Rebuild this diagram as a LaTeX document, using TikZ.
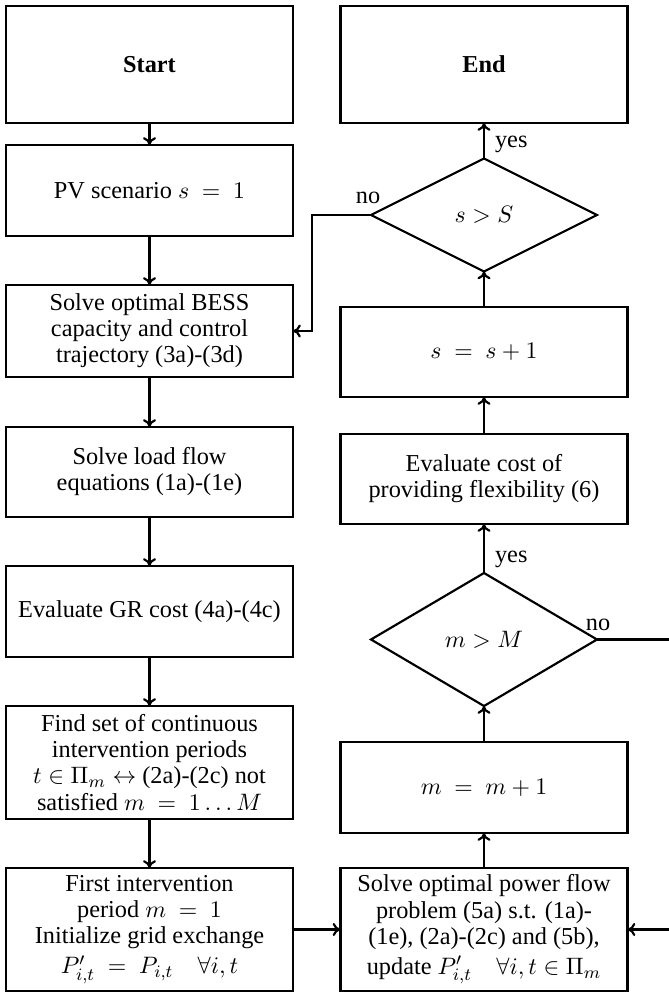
\documentclass[tikz,border=0pt]{standalone}
\usepackage{fontspec}
\setmainfont{Liberation Serif}
\usetikzlibrary{shapes.geometric,arrows.meta}
% one drawing unit
\newdimen\unitpx \unitpx=0.4608pt

\begin{document}
\begin{tikzpicture}[x=0.4608pt, y=-0.4608pt,
  line width=1pt,
  font=\fontsize{11.2}{12}\selectfont,
  bx/.style={draw, rectangle, line width=1pt, minimum width=287*\unitpx,
    minimum height=#1*\unitpx, inner sep=2pt, outer sep=0pt, align=center},
  dia/.style={draw, diamond, line width=1pt, minimum width=226*\unitpx,
    minimum height=113*\unitpx, inner sep=0pt, outer sep=0pt},
  lbl/.style={inner sep=0pt},
  arr/.style={-{To[length=3.6pt,width=6pt]}, line width=1pt}]
\useasboundingbox (0,0) rectangle (669,994);

% left column
\node[bx=117] (start) at (149.5,64.5) {\textbf{Start}};
\node[bx=91]  (pv)    at (149.5,190.5) {PV scenario $s~=~1$};
\node[bx=92]  (bess)  at (149.5,331) {Solve optimal BESS\\capacity and control\\trajectory (3a)-(3d)};
\node[bx=90]  (lf)    at (149.5,472) {Solve load flow\\equations (1a)-(1e)};
\node[bx=91]  (gr)    at (149.5,611.5) {Evaluate GR cost (4a)-(4c)};
\node[bx=113] (find)  at (149.5,762.5) {Find set of continuous\\intervention periods\\$t\in\Pi_m\leftrightarrow$ (2a)-(2c) not\\satisfied $m~=~1\ldots M$};
\node[bx=123] (first) at (149.5,929.5) {First intervention\\period $m~=~1$\\Initialize grid exchange\\[2pt]$P'_{i,t}~=~P_{i,t}\quad\forall i,t$};

% right column
\node[bx=117] (end)  at (484,64.5) {\textbf{End}};
\node[dia]    (sS)   at (484,215) {$s > S$};
\node[bx=90]  (sinc) at (484,352) {$s~=~s+1$};
\node[bx=90]  (eval) at (484,479) {Evaluate cost of\\providing flexibility (6)};
\node[dia, minimum height=133*\unitpx] (mM) at (484,639.5) {$m > M$};
\node[bx=91]  (minc) at (484,787.5) {$m~=~m+1$};
\node[bx=123] (opf)  at (484,929.5) {Solve optimal power flow\\problem (5a) s.t. (1a)-\\(1e), (2a)-(2c) and (5b),\\[2pt]update $P'_{i,t}\quad\forall i,t\in\Pi_m$};

% main flow
\draw[arr] (start) -- (pv);
\draw[arr] (pv) -- (bess);
\draw[arr] (bess) -- (lf);
\draw[arr] (lf) -- (gr);
\draw[arr] (gr) -- (find);
\draw[arr] (find) -- (first);
\draw[arr] (first) -- (opf);
\draw[arr] (opf) -- (minc);
\draw[arr] (minc) -- (mM);
\draw[arr] (mM) -- (eval);
\draw[arr] (eval) -- (sinc);
\draw[arr] (sinc) -- (sS);
\draw[arr] (sS) -- (end);

% loops back
\draw[arr] (sS.west) -- ++(-59,0) |- (bess.east);
\draw[arr] (mM.east) -- ++(80,0) |- (opf.east);

% decision labels
\node[lbl, anchor=south west, xshift=10*\unitpx, yshift=5*\unitpx] (y1) at (sS.north) {yes};
\node[lbl, anchor=south, xshift=-3*\unitpx, yshift=10*\unitpx] (n1) at (sS.west) {no};
\node[lbl, anchor=south west, xshift=10*\unitpx, yshift=4*\unitpx] (y2) at (mM.north) {yes};
\node[lbl, anchor=south, xshift=1*\unitpx, yshift=8*\unitpx] (n2) at (mM.east) {no};
\end{tikzpicture}
\end{document}
